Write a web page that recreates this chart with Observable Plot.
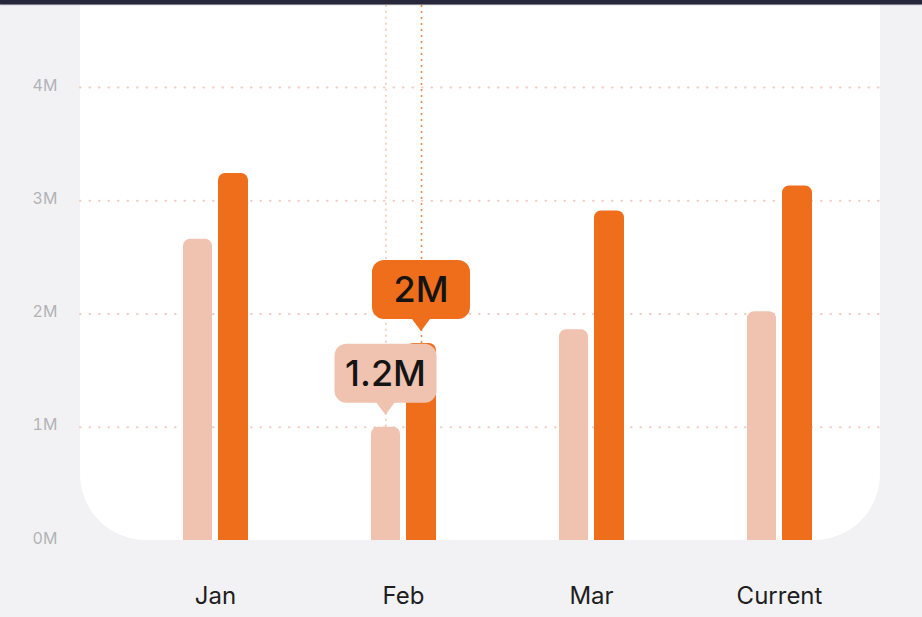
<!DOCTYPE html>
<html>
<head>
<meta charset="utf-8">
<script src="https://cdn.jsdelivr.net/npm/d3@7"></script>
<script src="https://cdn.jsdelivr.net/npm/@observablehq/plot@0.6"></script>
<style>
  html, body { margin: 0; padding: 0; background: #f2f2f4; }
  #wrap { position: relative; width: 922px; height: 617px; overflow: hidden; background: #f2f2f4; }
  #panel { position: absolute; left: 80px; top: -80px; width: 800px; height: 620px; background: #ffffff; border-radius: 66px; }
  #topbar { position: absolute; left: 0; top: 0; width: 922px; height: 4px; background: #26273b; box-shadow: 0 1px 1px #6b6c7c; }
  #chart { position: absolute; left: 0; top: 0; }
</style>
</head>
<body>
<div id="wrap">
  <div id="panel"></div>
  <div id="chart"></div>
  <div id="topbar"></div>
</div>
<script>
// ---- data ----
const months = ["Jan", "Feb", "Mar", "Current"];
const previousValues = [2.66e6, 1.0e6, 1.86e6, 2.02e6];
const currentValues = [3.24e6, 1.74e6, 2.91e6, 3.13e6];
const yTicks = [0, 1e6, 2e6, 3e6, 4e6];
const tipMonth = "Feb";
const tipLabels = ["1.2M", "2M"];

// ---- style ----
const lightColor = "#f0c3b0";
const darkColor = "#ef6e1c";
const font = "Inter, 'Helvetica Neue', Arial, sans-serif";

const prevData = months.map((m, i) => ({month: m, value: previousValues[i]}));
const currData = months.map((m, i) => ({month: m, value: currentValues[i]}));

// bar placement inside each band (band width ~188px)
const insetPrev = {insetLeft: 62, insetRight: 97};
const insetCurr = {insetLeft: 97, insetRight: 61};
const topCorners = {rx1y1: 7, rx2y1: 7};

const tipIdx = months.indexOf(tipMonth);
const tipPrev = [prevData[tipIdx]];
const tipCurr = [currData[tipIdx]];

const plot = Plot.plot({
  width: 922,
  height: 617,
  marginLeft: 80,
  marginRight: 42,
  marginTop: 0,
  marginBottom: 77,
  style: {background: "transparent", fontFamily: font},
  x: {domain: months, range: [120.4, 873.2], padding: 0, label: null, axis: null},
  y: {domain: [0, 4e6], range: [540, 87], label: null, axis: null},
  marks: [
    Plot.ruleY(yTicks.slice(1), {stroke: "#f2cdc0", strokeWidth: 2.2, strokeDasharray: "0.5,9", strokeLinecap: "round"}),
    Plot.axisY(yTicks, {tickSize: 0, tickPadding: 48, textAnchor: "start", dy: -2, tickFormat: d => (d / 1e6) + "M", fill: "#b2b2b8", fontSize: 16, label: null}),
    Plot.axisX({tickSize: 0, tickPadding: 46, fontSize: 24, fill: "#1e1e1e", label: null}),
    Plot.ruleX(tipPrev, {x: "month", y1: "value", y2: 5e6, dx: -17.6, stroke: "#f0c6b4", strokeWidth: 1.5, strokeDasharray: "2,4"}),
    Plot.ruleX(tipCurr, {x: "month", y1: "value", y2: 5e6, dx: 18, stroke: "#ec8a4a", strokeWidth: 1.6, strokeDasharray: "2,4"}),
    Plot.barY(prevData, {x: "month", y: "value", fill: lightColor, ...insetPrev, ...topCorners}),
    Plot.barY(currData, {x: "month", y: "value", fill: darkColor, ...insetCurr, ...topCorners})
  ]
});

document.getElementById("chart").appendChild(plot);

// ---- tooltips, positioned through Plot's own scales ----
const sx = plot.scale("x");
const sy = plot.scale("y");
const bandStart = sx.apply(tipMonth);
const bw = sx.bandwidth;
const centers = [
  bandStart + (insetPrev.insetLeft + (bw - insetPrev.insetRight)) / 2,
  bandStart + (insetCurr.insetLeft + (bw - insetCurr.insetRight)) / 2
];
const tipValues = [previousValues[tipIdx], currentValues[tipIdx]];
const tipFills = [lightColor, darkColor];
const tipWidths = [102, 98];

const svg = d3.select(plot.tagName.toLowerCase() === "svg" ? plot : plot.querySelector("svg"));
const g = svg.append("g").attr("font-family", font);
[0, 1].forEach(i => {
  const cx = centers[i];
  const top = sy.apply(tipValues[i]);
  const apex = top - 12;
  const h = 59, w = tipWidths[i], r = 12, pw = 9, ph = 12;
  const y1 = apex - ph, y0 = y1 - h, x0 = cx - w / 2, x1 = cx + w / 2;
  const path = `M${x0 + r},${y0}H${x1 - r}A${r},${r} 0 0 1 ${x1},${y0 + r}V${y1 - r}A${r},${r} 0 0 1 ${x1 - r},${y1}`
    + `H${cx + pw}L${cx},${apex}L${cx - pw},${y1}H${x0 + r}A${r},${r} 0 0 1 ${x0},${y1 - r}V${y0 + r}A${r},${r} 0 0 1 ${x0 + r},${y0}Z`;
  g.append("path").attr("d", path).attr("fill", tipFills[i]);
  g.append("text")
    .attr("x", cx)
    .attr("y", (y0 + y1) / 2)
    .attr("dy", "0.36em")
    .attr("text-anchor", "middle")
    .attr("font-size", 36)
    .attr("font-weight", 500)
    .attr("fill", "#141414")
    .text(tipLabels[i]);
});
</script>
</body>
</html>
